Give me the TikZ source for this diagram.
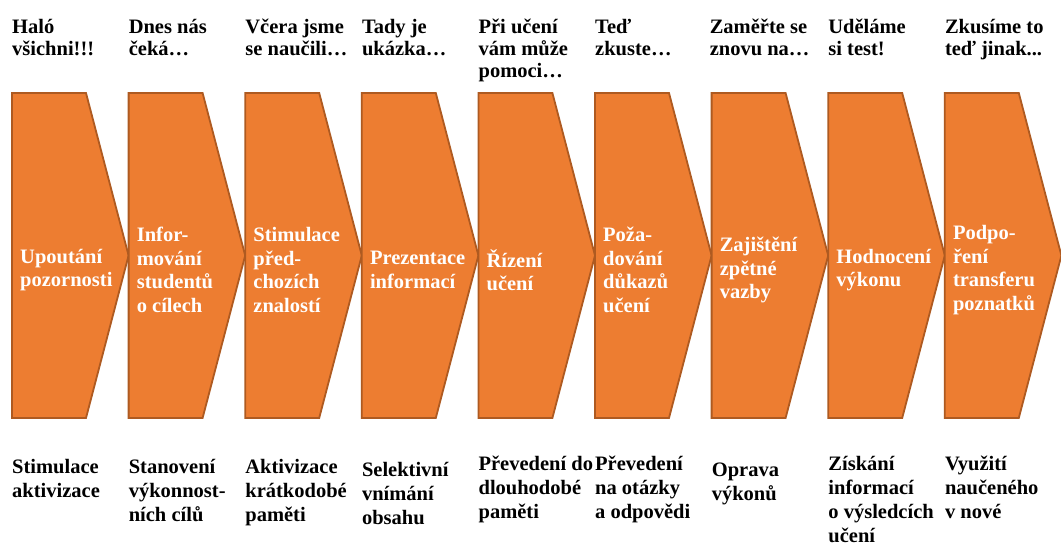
\documentclass[tikz,border=0pt]{standalone}
\usepackage{fontspec}
\setmainfont{Liberation Serif}
\definecolor{chevfill}{HTML}{ED7D31}
\definecolor{chevline}{HTML}{AE5A21}
\begin{document}
\begin{tikzpicture}[x=1pt,y=-1pt,
  chev/.style={fill=chevfill,draw=chevline,line width=1.8pt,line join=miter},
  inner/.style={anchor=west,align=left,text=white,inner sep=0pt,
    font=\bfseries\fontsize{20.5}{23.5}\selectfont},
  outer/.style={anchor=base west,align=left,text=black,inner sep=0pt,
    font=\bfseries\fontsize{20.5}{22}\selectfont},
  lower/.style={outer,font=\bfseries\fontsize{20.5}{24}\selectfont}]
\useasboundingbox (0,0) rectangle (1061,550);
% nine chevrons in a row, each tip touching the next one
\foreach \i in {0,...,8}{
  \pgfmathsetmacro{\xo}{12+116.6*\i}
  \draw[chev] (\xo,93) -- ++(74,0) -- ++(42.6,162.5) -- ++(-42.6,162.5) -- ++(-74,0) -- cycle;
  \coordinate (c\i) at (\xo+8,270);
}
% step names inside the chevrons
\node[inner] (s0) at (c0) {Upoutání\\pozornosti};
\node[inner] (s1) at (c1) {Infor-\\mování\\studentů\\o cílech};
\node[inner] (s2) at (c2) {Stimulace\\před-\\chozích\\znalostí};
\node[inner] (s3) at (c3) {Prezentace\\informací};
\node[inner] (s4) at (c4) {Řízení\\učení};
\node[inner] (s5) at (c5) {Poža-\\dování\\důkazů\\učení};
\node[inner] (s6) at (c6) {Zajištění\\zpětné\\vazby};
\node[inner] (s7) at (c7) {Hodnocení\\výkonu};
\node[inner] (s8) at (c8) {Podpo-\\ření\\transferu\\poznatků};
% what the teacher says (anchored on the baseline of the last line)
\node[outer] (p0) at (12,55) {Haló\\všichni!!!};
\node[outer] (p1) at (128.6,55) {Dnes nás\\čeká…};
\node[outer] (p2) at (245.2,55) {Včera jsme\\se naučili…};
\node[outer] (p3) at (361.8,55) {Tady je\\ukázka…};
\node[outer] (p4) at (478.4,77) {Při učení\\vám může\\pomoci…};
\node[outer] (p5) at (595,55) {Teď\\zkuste…};
\node[outer] (p6) at (709.6,55) {Zaměřte se\\znovu na…};
\node[outer] (p7) at (828.2,55) {Uděláme\\si test!};
\node[outer] (p8) at (944.8,55) {Zkusíme to\\teď jinak...};
% learning processes below
\node[lower] (q0) at (12,497) {Stimulace\\aktivizace};
\node[lower] (q1) at (128.6,521) {Stanovení\\výkonnost-\\ních cílů};
\node[lower] (q2) at (245.2,521) {Aktivizace\\krátkodobé\\paměti};
\node[lower] (q3) at (361.8,524) {Selektivní\\vnímání\\obsahu};
\node[lower] (q4) at (478.4,518) {Převedení do\\dlouhodobé\\paměti};
\node[lower] (q5) at (595,518) {Převedení\\na otázky\\a odpovědi};
\node[lower] (q6) at (711.6,500) {Oprava\\výkonů};
\node[lower] (q7) at (828.2,542) {Získání\\informací\\o výsledcích\\učení};
\node[lower] (q8) at (944.8,518) {Využití\\naučeného\\v nové};
\end{tikzpicture}
\end{document}
